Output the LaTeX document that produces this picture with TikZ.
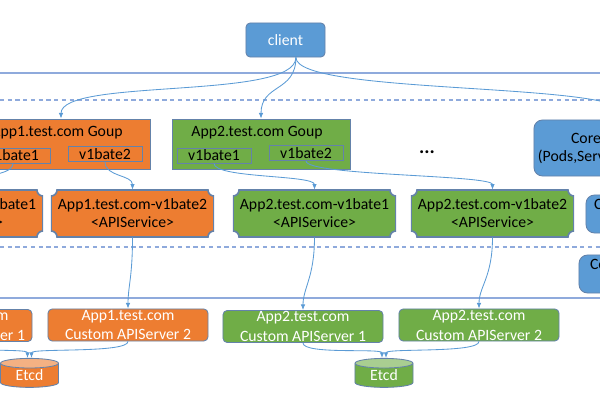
\documentclass[tikz,border=0pt]{standalone}
\usepackage{fontspec}
\setmainfont{Carlito}
\definecolor{apporange}{HTML}{ED7D31}
\definecolor{appgreen}{HTML}{70AD47}
\definecolor{coreblue}{HTML}{5B9BD5}
\definecolor{framecol}{HTML}{6482AA}
\definecolor{linkblue}{HTML}{5B9BD5}
\definecolor{layerblue}{HTML}{8FAADC}
\usetikzlibrary{arrows.meta, shapes.geometric}
\tikzset{
    box/.style={draw=framecol, line width=0.6pt, inner sep=0pt},
    client/.style={box, rounded corners=3pt, fill=coreblue, text=white,
        minimum width=1.975cm, minimum height=0.85cm},
    group/.style={box, fill=#1, minimum width=4.45cm, minimum height=1.25cm},
    version/.style={box, fill=#1, minimum width=1.85cm, minimum height=0.375cm},
    core/.style={box, rounded corners=6pt, fill=coreblue, align=center,
        minimum width=2.6cm, minimum height=1.4cm},
    apisvc/.style={fill=#1, inner sep=0pt, align=center,
        minimum width=4.075cm, minimum height=1.175cm,
        path picture={
            \fill[white] (path picture bounding box.north west) circle (4.3pt)
                (path picture bounding box.north east) circle (4.3pt)
                (path picture bounding box.south east) circle (4.3pt)
                (path picture bounding box.south west) circle (4.3pt);
            \draw[framecol, line width=1.2pt]
                ([xshift=4.3pt]path picture bounding box.north west)
                -- ([xshift=-4.3pt]path picture bounding box.north east)
                arc[start angle=180, end angle=270, radius=4.3pt]
                -- ([yshift=4.3pt]path picture bounding box.south east)
                arc[start angle=90, end angle=180, radius=4.3pt]
                -- ([xshift=4.3pt]path picture bounding box.south west)
                arc[start angle=0, end angle=90, radius=4.3pt]
                -- ([yshift=-4.3pt]path picture bounding box.north west)
                arc[start angle=270, end angle=360, radius=4.3pt] -- cycle;
        }},
    apisrv/.style={box, rounded corners=3pt, fill=#1, text=white, align=center,
        minimum width=4cm, minimum height=0.8cm,
        font=\fontsize{11.2}{14.2}\selectfont},
    etcd/.style={cylinder, shape border rotate=90, aspect=0.35, draw=framecol,
        line width=0.6pt, cylinder uses custom fill, cylinder body fill=#1,
        cylinder end fill=#1!60!white, text=white, inner sep=0pt,
        minimum width=1.45cm, minimum height=0.725cm},
    link/.style={draw=linkblue, line width=0.6pt,
        -{Latex[length=4pt, width=3.2pt]}},
    layer/.style={draw=layerblue, line width=1pt},
}

\begin{document}
\begin{tikzpicture}[x=0.025cm, y=0.025cm,
        every node/.style={font=\fontsize{11.2}{12.8}\selectfont}]
    \useasboundingbox (0, 0) rectangle (600, -400);
    \clip (0, 0) rectangle (600, -400);
    \foreach \y in {73, 298}
        \draw[layer] (0, -\y) -- (600, -\y);
    \foreach \y in {100, 247}
        \draw[layer, dash pattern=on 3pt off 2.5pt] (0, -\y) -- (600, -\y);

    \node[client] (client) at (285.5, -40) {client};
    \coordinate (fan) at ([xshift=0.26cm]client.south);

    \node[group=apporange] (grpA) at (61, -144) {};
    \node (grpA-title) at ([xshift=-0.1cm, yshift=-0.35cm]grpA.north) {App1.test.com Goup};
    \node[version=apporange] (vA1) at (13, -155.5) {v1bate1};
    \node[version=apporange] (vA2) at (105, -154) {v1bate2};
    \node[group=appgreen] (grpB) at (261, -144) {};
    \node (grpB-title) at ([xshift=-0.1cm, yshift=-0.35cm]grpB.north) {App2.test.com Goup};
    \node[version=appgreen] (vB1) at (214, -155.5) {v1bate1};
    \node[version=appgreen] (vB2) at (306, -153) {v1bate2};
    \node[font=\bfseries\fontsize{14}{14}\selectfont] (more) at (427, -152) {...};
    \node[core] (core) at (586, -148) {Core\\(Pods,Services)};
    \node[core, minimum width=1.15cm, minimum height=0.95cm] (coreSvc) at (609, -214) {};
    \node (coreSvc-title) at ([yshift=-0.25cm]coreSvc.north) {Core};
    \node[core, minimum width=1.3cm, minimum height=0.95cm] (coreSrv) at (605, -274) {};
    \node (coreSrv-title) at ([yshift=-0.25cm]coreSrv.north) {Core};

    \node[apisvc=apporange] (svcA1) at (-38.5, -213.5) {App1.test.com-v1bate1\\<APIService>};
    \node[apisvc=apporange] (svcA2) at (132.5, -213.5) {App1.test.com-v1bate2\\<APIService>};
    \node[apisvc=appgreen] (svcB1) at (314.5, -213.5) {App2.test.com-v1bate1\\<APIService>};
    \node[apisvc=appgreen] (svcB2) at (492.5, -213.5) {App2.test.com-v1bate2\\<APIService>};

    \node[apisrv=apporange, minimum width=3.5cm] (srvA1) at (-38, -325.5) {App1.test.com\\Custom APIServer 1};
    \node[apisrv=apporange] (srvA2) at (128, -325) {App1.test.com\\Custom APIServer 2};
    \node[apisrv=appgreen] (srvB1) at (303, -326.5) {App2.test.com\\Custom APIServer 1};
    \node[apisrv=appgreen] (srvB2) at (479, -325) {App2.test.com\\Custom APIServer 2};

    \node[etcd=apporange] (etcdA) at (29.5, -375.5) {Etcd};
    \node[etcd=appgreen] (etcdB) at (384, -375.5) {Etcd};

    \draw[link] (fan) .. controls +(0, -43) and +(0, 41) .. (grpA.north);
    \draw[link] (fan) .. controls +(0, -35) and +(0, 35) .. (grpB.north);
    \draw[link] (fan) .. controls +(0, -38) and +(0, 38) .. ([xshift=-0.3cm]core.north east);
    \draw[link] (vA1.south) .. controls +(0, -15) and +(0, 15) .. (svcA1.north);
    \draw[link] (vA2.south) .. controls +(0, -15) and +(0, 15) .. (svcA2.north);
    \draw[link] (vB1.south) .. controls +(0, -15) and +(0, 15) .. (svcB1.north);
    \draw[link] (vB2.south) .. controls +(0, -15) and +(0, 15) .. (svcB2.north);
    \draw[link] (svcA1.south) .. controls +(0, -40) and +(0, 22) .. (srvA1.north);
    \draw[link] (svcA2.south) .. controls +(0, -40) and +(0, 22) .. (srvA2.north);
    \draw[link] (svcB1.south) .. controls +(0, -40) and +(0, 22) .. (srvB1.north);
    \draw[link] (svcB2.south) .. controls +(0, -40) and +(0, 22) .. (srvB2.north);
    \draw[link] (srvA1.south) .. controls +(0, -12) and +(0, 10) .. ([xshift=-0.05cm]etcdA.north);
    \draw[link] (srvA2.south) .. controls +(0, -12) and +(0, 10) .. ([xshift=0.05cm]etcdA.north);
    \draw[link] (srvB1.south) .. controls +(0, -12) and +(0, 10) .. ([xshift=-0.05cm]etcdB.north);
    \draw[link] (srvB2.south) .. controls +(0, -12) and +(0, 10) .. ([xshift=0.05cm]etcdB.north);
\end{tikzpicture}
\end{document}
